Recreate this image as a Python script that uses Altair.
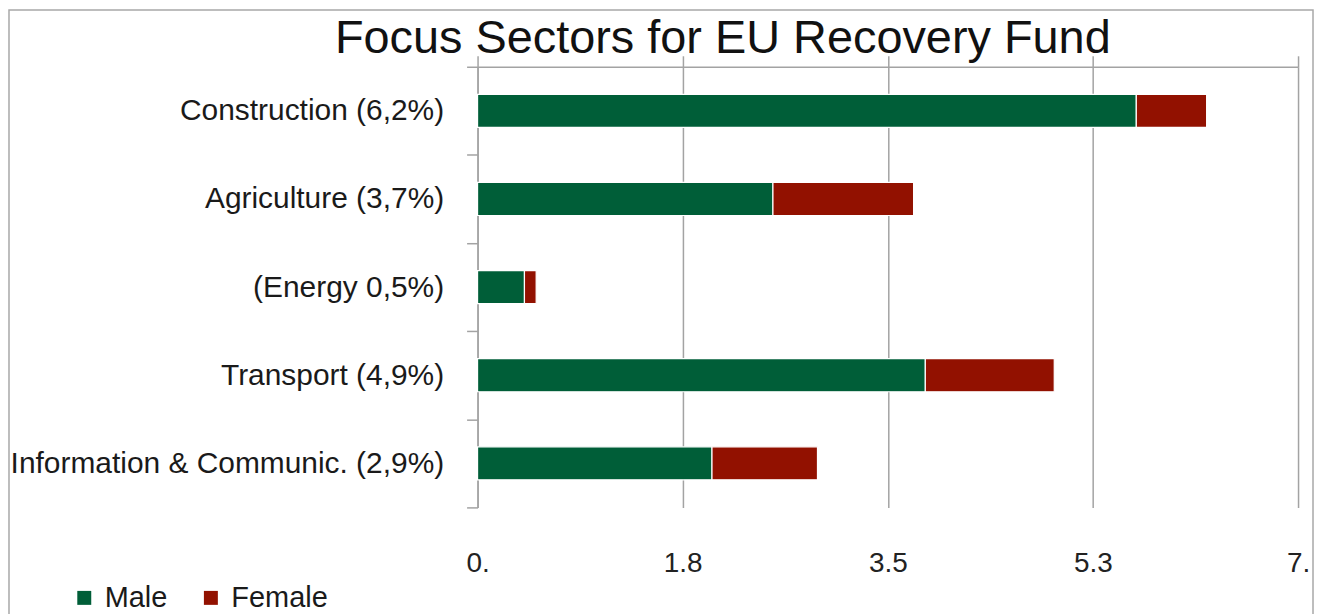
import altair as alt
import pandas as pd

title_text = "Focus Sectors for EU Recovery Fund"
sectors = ["Construction (6,2%)", "Agriculture (3,7%)", "(Energy 0,5%)",
           "Transport (4,9%)", "Information & Communic. (2,9%)"]
male = [5.62, 2.52, 0.4, 3.82, 2.0]
female = [0.6, 1.2, 0.1, 1.1, 0.9]
genders = ["Male", "Female"]
colors = ["#005E38", "#921100"]
tick_vals = [0, 1.75, 3.5, 5.25, 7]
tick_labels = ["0.", "1.8", "3.5", "5.3", "7."]

rows = []
for s, m, f in zip(sectors, male, female):
    rows.append({"sector": s, "gender": "Male", "order": 0, "value": m})
    rows.append({"sector": s, "gender": "Female", "order": 1, "value": f})
df = pd.DataFrame(rows)

FONT = "Liberation Sans"
GRAY = "#a3a3a3"
label_expr = "[" + ",".join("'%s'" % t for t in tick_labels) + "][indexof([" + \
    ",".join(str(v) for v in tick_vals) + "], datum.value)]"

xscale = alt.Scale(domain=[0, 7], nice=False, zero=True)

bars = alt.Chart(df).mark_bar(
    height=alt.RelativeBandSize(band=0.375), stroke="white", strokeWidth=1.2
).encode(
    x=alt.X("value:Q", stack="zero", scale=xscale,
            axis=alt.Axis(orient="bottom", values=tick_vals, labelExpr=label_expr,
                          domain=False, ticks=False, tickSize=0, grid=True,
                          gridColor=GRAY, gridWidth=1.5, labelFontSize=28,
                          labelFont=FONT, labelColor="#222222", labelPadding=42,
                          labelBaseline="top", labelFlush=False, labelOverlap=False,
                          title=None)),
    y=alt.Y("sector:N", sort=sectors, scale=alt.Scale(paddingInner=0, paddingOuter=0),
            axis=alt.Axis(orient="left", domain=True, domainColor=GRAY, domainWidth=1.5,
                          ticks=True, tickBand="extent", tickSize=11, tickColor=GRAY,
                          tickWidth=1.5, grid=False, labelFontSize=30, labelFont=FONT,
                          labelColor="#1a1a1a", labelPadding=23, labelLimit=1000,
                          title=None)),
    color=alt.Color("gender:N", scale=alt.Scale(domain=genders, range=colors),
                    legend=alt.Legend(orient="none", legendX=-409, legendY=518,
                                      direction="horizontal", title=None,
                                      symbolType="square", symbolSize=196,
                                      symbolStrokeWidth=0, labelFontSize=29,
                                      labelFont=FONT, labelColor="#1a1a1a",
                                      labelOffset=6, columnPadding=29, padding=0)),
    order=alt.Order("order:Q"),
)

totals = pd.DataFrame({"sector": sectors, "total": [m + f for m, f in zip(male, female)]})
top_axis = alt.Chart(totals).mark_rule(opacity=0).encode(
    x=alt.X("total:Q", scale=xscale,
            axis=alt.Axis(orient="top", values=tick_vals, labels=False, ticks=True,
                          tickSize=11, tickColor=GRAY, tickWidth=1.5, domain=True,
                          domainColor=GRAY, domainWidth=1.5, grid=False, title=None)),
)

title_df = pd.DataFrame({"t": [title_text]})
title = alt.Chart(title_df).mark_text(
    font=FONT, fontSize=47, color="#111111", baseline="alphabetic", align="center"
).encode(text="t:N", x=alt.value(246), y=alt.value(-14))

border = alt.Chart(title_df).mark_rect(
    fillOpacity=0, stroke="#a8a8a8", strokeWidth=1.5
).encode(x=alt.value(-470), x2=alt.value(838), y=alt.value(-57), y2=alt.value(640))

chart = alt.layer(border, bars, top_axis, title).resolve_axis(x="independent").properties(
    width=823, height=442,
    autosize=alt.AutoSizeParams(type="none"),
    padding={"left": 471, "top": 58, "right": 16, "bottom": 112},
    background="white",
).configure_view(strokeWidth=0)

chart.save("out.html", embed_options={"renderer": "svg", "actions": False})
